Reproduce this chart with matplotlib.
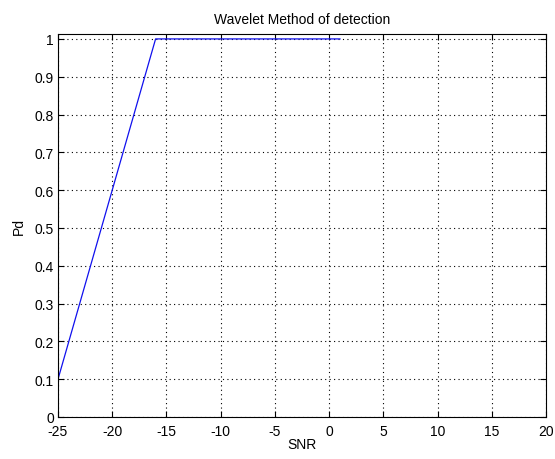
import matplotlib
matplotlib.use("Agg")
import matplotlib.pyplot as plt

snr = [-25, -16, 1]
pd_vals = [0.1, 1.0, 1.0]
xticks = [-25, -20, -15, -10, -5, 0, 5, 10, 15, 20]
yticks = [0, 0.1, 0.2, 0.3, 0.4, 0.5, 0.6, 0.7, 0.8, 0.9, 1]
ytick_labels = ["0", "0.1", "0.2", "0.3", "0.4", "0.5", "0.6", "0.7", "0.8", "0.9", "1"]

plt.rcParams['font.family'] = ['Liberation Sans', 'DejaVu Sans']
plt.rcParams['axes.unicode_minus'] = False
fig = plt.figure(figsize=(5.55, 4.6), dpi=100)
ax = fig.add_axes([58/555, 42/460, (546-58)/555, (418-35)/460])
ax.plot(snr, pd_vals, color='#1010ee', linewidth=0.9)
ax.set_xlim(-25, 20)
ax.set_ylim(0, 1.013)
ax.set_xticks(xticks)
ax.set_yticks(yticks)
ax.set_yticklabels(ytick_labels)
ax.grid(True, linestyle=(0, (1, 3)), color='black', linewidth=0.8)
ax.tick_params(direction='in', top=True, right=True, labelsize=10, length=4)
ax.tick_params(axis='x', pad=5)
ax.tick_params(axis='y', pad=3)
for s in ax.spines.values():
    s.set_linewidth(0.8)
ax.set_xlabel('SNR', fontsize=10, labelpad=-1)
ax.set_ylabel('Pd', fontsize=10, labelpad=6)
ax.set_title('Wavelet Method of detection', fontsize=10, pad=8)
fig.savefig('out.png', dpi=100)
